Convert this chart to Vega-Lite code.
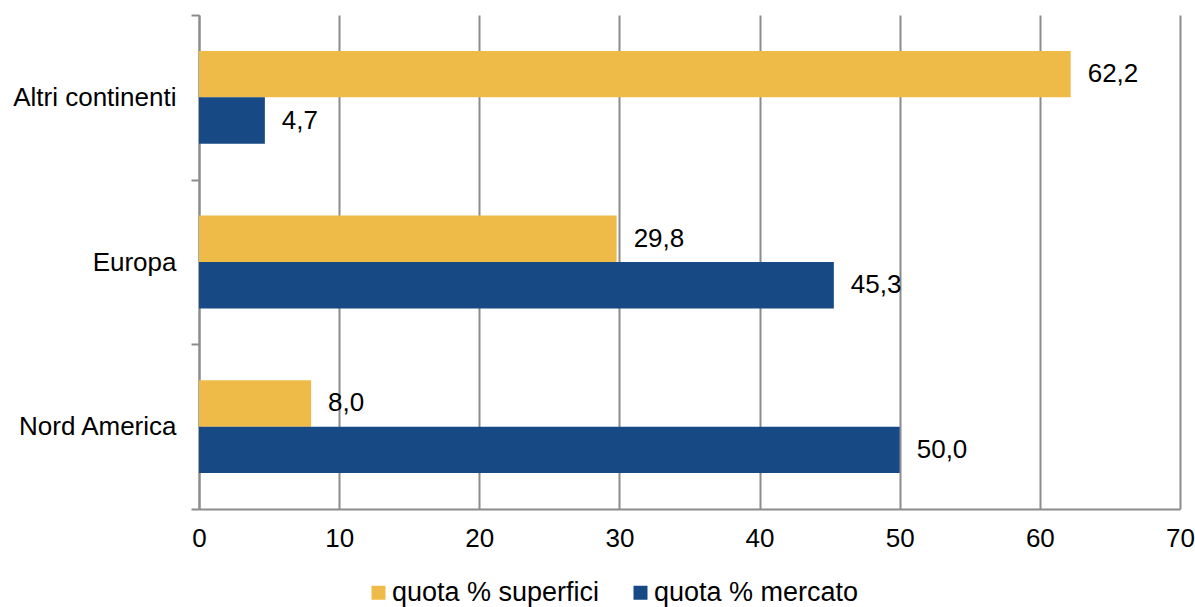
{
  "$schema": "https://vega.github.io/schema/vega-lite/v6.json",
  "width": 981,
  "height": 494,
  "autosize": {"type": "none"},
  "padding": {"left": 199, "top": 15, "right": 15, "bottom": 98},
  "background": "white",
  "config": {
    "font": "Liberation Sans",
    "view": {"stroke": null}
  },
  "data": {
    "values": [
      {"regione": "Altri continenti", "serie": "quota % superfici", "valore": 62.2, "label": "62,2"},
      {"regione": "Altri continenti", "serie": "quota % mercato", "valore": 4.7, "label": "4,7"},
      {"regione": "Europa", "serie": "quota % superfici", "valore": 29.8, "label": "29,8"},
      {"regione": "Europa", "serie": "quota % mercato", "valore": 45.3, "label": "45,3"},
      {"regione": "Nord America", "serie": "quota % superfici", "valore": 8.0, "label": "8,0"},
      {"regione": "Nord America", "serie": "quota % mercato", "valore": 50.0, "label": "50,0"}
    ]
  },
  "encoding": {
    "y": {
      "field": "regione",
      "type": "nominal",
      "sort": ["Altri continenti", "Europa", "Nord America"],
      "scale": {"paddingInner": 0, "paddingOuter": 0},
      "axis": {
        "title": null,
        "tickBand": "extent",
        "labelFontSize": 26,
        "labelColor": "#000000",
        "labelPadding": 15,
        "labelLimit": 300,
        "tickSize": 8,
        "tickColor": "#8c8c8c",
        "tickWidth": 2,
        "domainColor": "#8c8c8c",
        "domainWidth": 2,
        "grid": false
      }
    },
    "yOffset": {
      "field": "serie",
      "type": "nominal",
      "sort": ["quota % superfici", "quota % mercato"],
      "scale": {"paddingInner": 0, "paddingOuter": 0.774}
    },
    "x": {
      "field": "valore",
      "type": "quantitative",
      "scale": {"domain": [0, 70], "nice": false},
      "axis": {
        "title": null,
        "values": [0, 10, 20, 30, 40, 50, 60, 70],
        "grid": true,
        "gridColor": "#8c8c8c",
        "gridWidth": 2,
        "ticks": false,
        "labelFontSize": 26,
        "labelColor": "#000000",
        "labelPadding": 16,
        "labelFlush": false,
        "domainColor": "#8c8c8c",
        "domainWidth": 2
      }
    }
  },
  "layer": [
    {
      "mark": {"type": "bar"},
      "encoding": {
        "color": {
          "field": "serie",
          "type": "nominal",
          "sort": ["quota % superfici", "quota % mercato"],
          "scale": {"domain": ["quota % superfici", "quota % mercato"], "range": ["#EFBB48", "#174A84"]},
          "legend": {
            "title": null,
            "orient": "none",
            "legendX": 166,
            "legendY": 564,
            "direction": "horizontal",
            "symbolType": "square",
            "symbolSize": 196,
            "symbolStrokeWidth": 0,
            "labelFontSize": 27,
            "labelColor": "#000000",
            "labelLimit": 400,
            "columnPadding": 27,
            "labelOffset": 0,
            "padding": 0
          }
        }
      }
    },
    {
      "mark": {"type": "text", "align": "left", "baseline": "middle", "dx": 17, "fontSize": 26, "color": "#000000"},
      "encoding": {
        "text": {"field": "label", "type": "nominal"}
      }
    }
  ]
}
